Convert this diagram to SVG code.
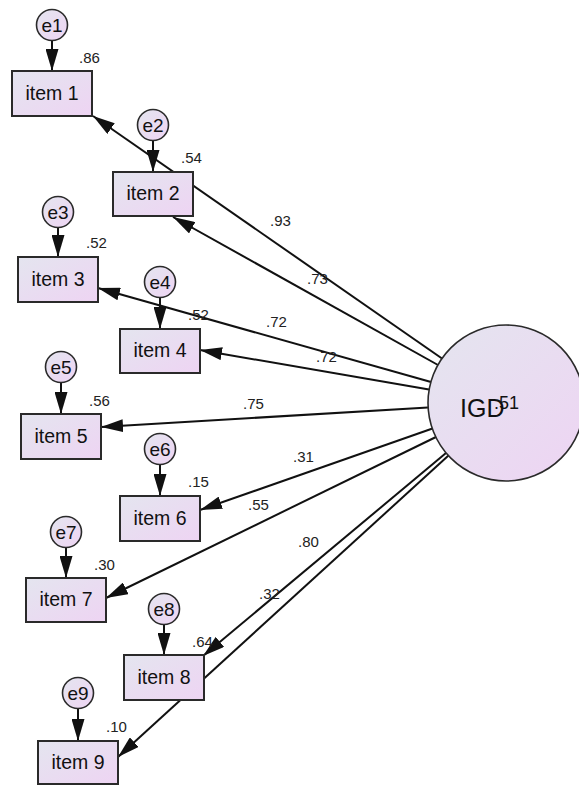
<svg xmlns="http://www.w3.org/2000/svg" width="579" height="785" viewBox="0 0 579 785">
<style>
.box{stroke:#2a2a2a;stroke-width:2;fill:url(#g)}
.err{stroke:#2a2a2a;stroke-width:1.6;fill:url(#g)}
.lat{stroke:#2a2a2a;stroke-width:1.6;fill:url(#g)}
.t{font-family:"Liberation Sans",Arial,sans-serif;font-size:19.5px;fill:#111;text-anchor:middle}
.te{font-family:"Liberation Sans",Arial,sans-serif;font-size:19px;fill:#111;text-anchor:middle}
.lb{font-family:"Liberation Sans",Arial,sans-serif;font-size:15px;fill:#222}
.c{stroke:#111;stroke-width:2;fill:none;marker-end:url(#ah)}
</style>
<defs>
<linearGradient id="g" x1="0" y1="0" x2="1" y2="1">
<stop offset="0" stop-color="#e4e5ef"/>
<stop offset="1" stop-color="#eed4f3"/>
</linearGradient>
<marker id="ah" viewBox="0 0 22 13" refX="22" refY="6.5" markerWidth="22" markerHeight="13" orient="auto" markerUnits="userSpaceOnUse">
<path d="M0,0 L22,6.5 L0,13 z" fill="#111"/>
</marker>
</defs>
<rect width="579" height="785" fill="#fff"/>

<g id="connectors">
<line class="c" x1="52" y1="40.5" x2="52" y2="71"/>
<line class="c" x1="153" y1="140.5" x2="153" y2="172"/>
<line class="c" x1="58" y1="227.5" x2="58" y2="257"/>
<line class="c" x1="160" y1="297.5" x2="160" y2="329"/>
<line class="c" x1="61" y1="382.5" x2="61" y2="414"/>
<line class="c" x1="160" y1="464.5" x2="160" y2="496"/>
<line class="c" x1="66" y1="547.5" x2="66" y2="578"/>
<line class="c" x1="164" y1="624.5" x2="164" y2="655"/>
<line class="c" x1="78" y1="708.5" x2="78" y2="741"/>

<line class="c" x1="442" y1="358.5" x2="93" y2="116"/>
<line class="c" x1="438" y1="365" x2="173" y2="217"/>
<line class="c" x1="431" y1="382" x2="98" y2="288"/>
<line class="c" x1="429" y1="389.5" x2="200" y2="350"/>
<line class="c" x1="428" y1="407.5" x2="101" y2="427"/>
<line class="c" x1="432.5" y1="428.5" x2="200" y2="510"/>
<line class="c" x1="436" y1="437" x2="106" y2="598"/>
<line class="c" x1="446" y1="453" x2="203" y2="656"/>
<line class="c" x1="448.5" y1="455.5" x2="118" y2="757"/>
</g>

<g id="IGD">
<circle class="lat" cx="506" cy="403" r="78"/>
<text x="460" y="417" font-family="'Liberation Sans',Arial,sans-serif" font-size="25" fill="#111">IGD</text>
<text x="494" y="409" font-family="'Liberation Sans',Arial,sans-serif" font-size="18" fill="#111">.51</text>
</g>

<g id="item1"><rect class="box" x="12" y="71" width="80" height="45"/><text class="t" x="52" y="100">item 1</text><text class="lb" x="79" y="63">.86</text></g>
<g id="item2"><rect class="box" x="113" y="172" width="80" height="44"/><text class="t" x="153" y="200">item 2</text><text class="lb" x="181" y="163">.54</text></g>
<g id="item3"><rect class="box" x="18" y="257" width="80" height="45"/><text class="t" x="58" y="286">item 3</text><text class="lb" x="86" y="248">.52</text></g>
<g id="item4"><rect class="box" x="120" y="329" width="80" height="44"/><text class="t" x="160" y="357">item 4</text><text class="lb" x="188" y="320">.52</text></g>
<g id="item5"><rect class="box" x="21" y="414" width="80" height="45"/><text class="t" x="61" y="443">item 5</text><text class="lb" x="89" y="406">.56</text></g>
<g id="item6"><rect class="box" x="120" y="496" width="80" height="45"/><text class="t" x="160" y="525">item 6</text><text class="lb" x="188" y="487">.15</text></g>
<g id="item7"><rect class="box" x="26" y="578" width="80" height="44"/><text class="t" x="66" y="606">item 7</text><text class="lb" x="94" y="570">.30</text></g>
<g id="item8"><rect class="box" x="124" y="655" width="80" height="45"/><text class="t" x="164" y="684">item 8</text><text class="lb" x="192" y="647">.64</text></g>
<g id="item9"><rect class="box" x="38" y="741" width="80" height="43"/><text class="t" x="78" y="769">item 9</text><text class="lb" x="106" y="732">.10</text></g>

<g id="e1"><circle class="err" cx="52" cy="25" r="15.5"/><text class="te" x="52" y="31.5">e1</text></g>
<g id="e2"><circle class="err" cx="153" cy="125" r="15.5"/><text class="te" x="153" y="131.5">e2</text></g>
<g id="e3"><circle class="err" cx="58" cy="212" r="15.5"/><text class="te" x="58" y="218.5">e3</text></g>
<g id="e4"><circle class="err" cx="160" cy="282" r="15.5"/><text class="te" x="160" y="288.5">e4</text></g>
<g id="e5"><circle class="err" cx="61" cy="367" r="15.5"/><text class="te" x="61" y="373.5">e5</text></g>
<g id="e6"><circle class="err" cx="160" cy="449" r="15.5"/><text class="te" x="160" y="455.5">e6</text></g>
<g id="e7"><circle class="err" cx="66" cy="532" r="15.5"/><text class="te" x="66" y="538.5">e7</text></g>
<g id="e8"><circle class="err" cx="164" cy="609" r="15.5"/><text class="te" x="164" y="615.5">e8</text></g>
<g id="e9"><circle class="err" cx="78" cy="693" r="15.5"/><text class="te" x="78" y="699.5">e9</text></g>

<g id="path-labels">
<text class="lb" x="270" y="226">.93</text>
<text class="lb" x="307" y="284">.73</text>
<text class="lb" x="266" y="327">.72</text>
<text class="lb" x="316" y="362">.72</text>
<text class="lb" x="243" y="409">.75</text>
<text class="lb" x="293" y="462">.31</text>
<text class="lb" x="248" y="510">.55</text>
<text class="lb" x="298" y="547">.80</text>
<text class="lb" x="259" y="599">.32</text>
</g>
</svg>
